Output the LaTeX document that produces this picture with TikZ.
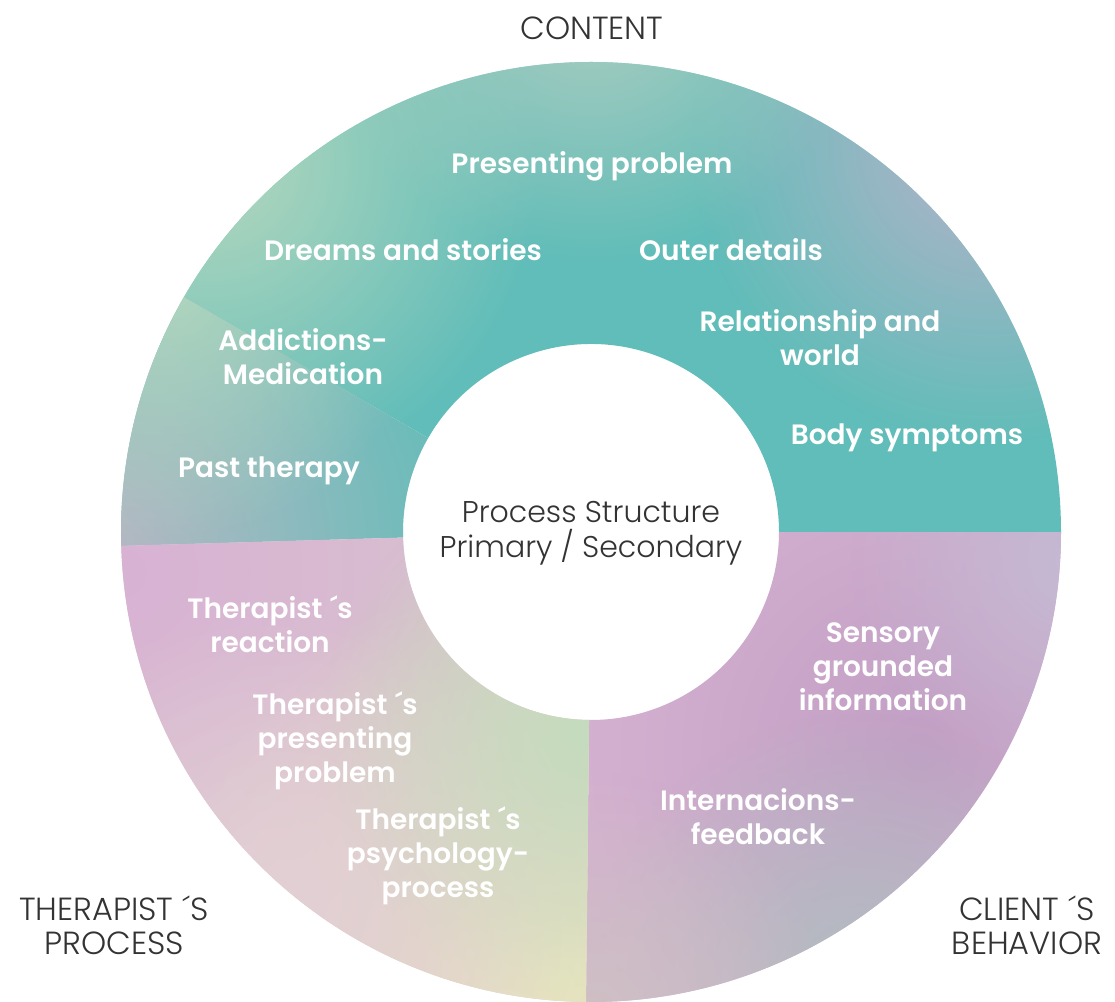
\documentclass[tikz,border=0pt]{standalone}
\usepackage{fontspec}
\setmainfont{Poppins}[BoldFont={Poppins SemiBold}]
\newfontfamily\thinfont{Poppins Light}
\usetikzlibrary{fadings}

\tikzfading[name=soft glow, inner color=transparent!0, outer color=transparent!100]

\definecolor{tealcore}{HTML}{61BDB9}
\definecolor{greenmist}{HTML}{B5D8BE}
\definecolor{lilacgrey}{HTML}{B8B2CA}
\definecolor{sage}{HTML}{B2CEC0}
\definecolor{slategrey}{HTML}{BAB8C4}
\definecolor{pinkbase}{HTML}{D4B0D0}
\definecolor{plum}{HTML}{C29FC5}
\definecolor{greyteal}{HTML}{AEBEBF}
\definecolor{lavgrey}{HTML}{C4B9D3}
\definecolor{mushroom}{HTML}{CEC0C4}
\definecolor{rosebase}{HTML}{D9C3CE}
\definecolor{rosepink}{HTML}{D8B2D4}
\definecolor{mint}{HTML}{C4DCBD}
\definecolor{straw}{HTML}{E7E5C0}
\definecolor{blush}{HTML}{E3D0D5}

\begin{document}
\begin{tikzpicture}[x=1pt, y=1pt,
  item/.style = {text=white, font=\fontsize{28}{34}\selectfont\bfseries,
    align=center, inner sep=0pt},
  heading/.style = {text=black!80, font=\thinfont\fontsize{32}{34}\selectfont,
    align=center, inner sep=0pt},
  blob/.style = {path fading=soft glow}]
  \useasboundingbox (-591,-469) rectangle (524,532);

  % content
  \begin{scope}
    \clip (0:188) -- (0:470) arc[start angle=0, end angle=150, radius=470]
      -- (150:188) arc[start angle=150, end angle=0, radius=188] -- cycle;
    \fill[tealcore] (-500,-10) rectangle (500,500);
    \foreach \x/\y/\r/\c in {-380/370/330/greenmist, 400/390/300/lilacgrey, 0/550/280/sage}
      \fill[\c, blob] (\x,\y) circle (\r);
  \end{scope}
  \begin{scope}
    \clip (150:188) -- (150:470) arc[start angle=150, end angle=181.7, radius=470]
      -- (181.7:188) arc[start angle=181.7, end angle=150, radius=188] -- cycle;
    \fill[tealcore] (-500,-20) rectangle (0,300);
    \foreach \x/\y/\r/\c in {-500/-20/400/slategrey, -430/270/280/greenmist}
      \fill[\c, blob] (\x,\y) circle (\r);
  \end{scope}

  % client behaviour
  \begin{scope}
    \clip (-90.6:188) -- (-90.6:470) arc[start angle=-90.6, end angle=0, radius=470]
      -- (0:188) arc[start angle=0, end angle=-90.6, radius=188] -- cycle;
    \fill[pinkbase] (-10,-480) rectangle (480,0);
    \foreach \x/\y/\r/\c in {330/-220/330/plum, 270/-460/280/greyteal,
        480/-30/220/lavgrey, 0/-480/240/mushroom}
      \fill[\c, blob] (\x,\y) circle (\r);
  \end{scope}

  % therapist process
  \begin{scope}
    \clip (181.7:188) -- (181.7:470) arc[start angle=181.7, end angle=269.4, radius=470]
      -- (269.4:188) arc[start angle=269.4, end angle=181.7, radius=188] -- cycle;
    \fill[rosebase] (-480,-480) rectangle (10,0);
    \foreach \x/\y/\r/\c in {-470/-40/440/rosepink, -30/-450/420/straw,
        -310/-370/300/blush, 0/-200/270/mint}
      \fill[\c, blob] (\x,\y) circle (\r);
  \end{scope}

  % texts
  \node[heading] (content) at (1,504) {CONTENT};
  \node[heading] (therapist) at (-477,-393) {THERAPIST\;´S\\PROCESS};
  \node[heading] (client) at (436,-393) {CLIENT\;´S\\BEHAVIOR};
  \node[heading, font=\thinfont\fontsize{30}{35}\selectfont]
    (structure) at (0,-1) {Process Structure\\Primary / Secondary};

  \node[item] (presenting) at (1,366) {Presenting problem};
  \node[item] (dreams) at (-188,282) {Dreams and stories};
  \node[item] (outer) at (140,282) {Outer details};
  \node[item] (relationship) at (229,194) {Relationship and\\world};
  \node[item] (addictions) at (-288,175) {Addictions-\\Medication};
  \node[item] (body) at (316,94) {Body symptoms};
  \node[item] (past) at (-322,61) {Past therapy};
  \node[item] (reaction) at (-321,-92) {Therapist\;´s\\reaction};
  \node[item] (own problem) at (-256,-209) {Therapist\;´s\\presenting\\problem};
  \node[item] (psychology) at (-153,-324) {Therapist\;´s\\psychology-\\process};
  \node[item] (sensory) at (292,-135) {Sensory\\grounded\\information};
  \node[item] (feedback) at (167,-285) {Internacions-\\feedback};
\end{tikzpicture}
\end{document}
